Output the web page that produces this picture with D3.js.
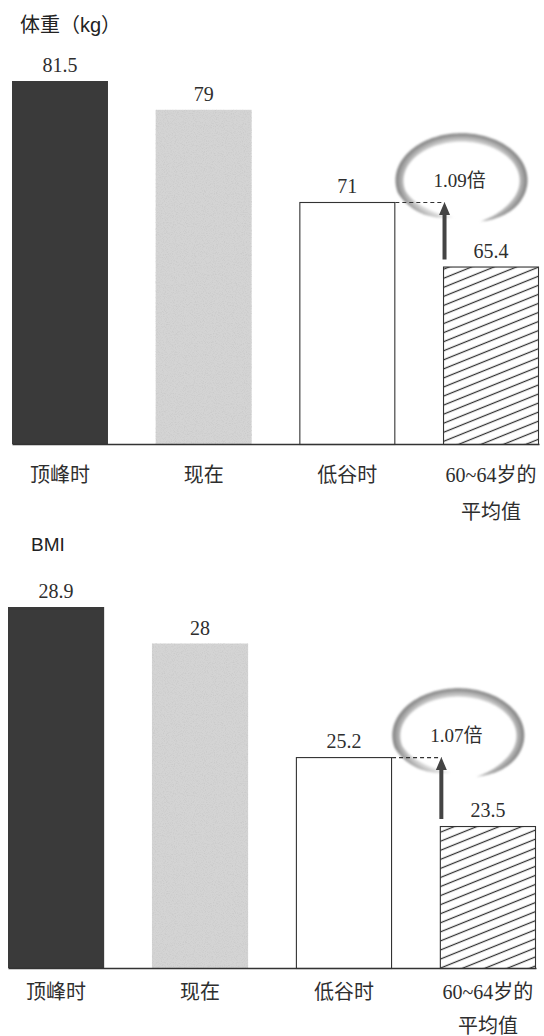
<!DOCTYPE html>
<html>
<head>
<meta charset="utf-8">
<script src="https://cdn.jsdelivr.net/npm/d3@7/dist/d3.min.js"></script>
<style>
  html, body { margin: 0; padding: 0; background: #fff; }
  svg { display: block; }
</style>
</head>
<body>
<script>
// ---- data ----
const categoryLines = [["顶峰时"], ["现在"], ["低谷时"], ["60~64岁的", "平均值"]];
const categories = categoryLines.map(l => l.join(""));
const weightValues = [81.5, 79, 71, 65.4];
const bmiValues = [28.9, 28, 25.2, 23.5];
const weightAxisMin = 50;
const bmiAxisMin = 20;
const panelTitles = ["体重（kg）", "BMI"];

// ---- layout ----
const W = 544, H = 1036;
const panels = [
  { title: panelTitles[0], values: weightValues, axisMin: weightAxisMin,
    titleX: 20, titleY: 32, titleSize: 20, left: 12, right: 539, top: 81, baseline: 444,
    labelY: 482, lineGap: 37, gid: "ringA" },
  { title: panelTitles[1], values: bmiValues, axisMin: bmiAxisMin,
    titleX: 31, titleY: 551, titleSize: 19, left: 8, right: 536, top: 607, baseline: 968,
    labelY: 999, lineGap: 34, gid: "ringB" }
];

const serif = "'Liberation Serif', 'Noto Sans CJK SC', serif";
const sans = "'Liberation Sans', 'Noto Sans CJK SC', sans-serif";
const ink = "#2e2e2e";

const svg = d3.select("body").append("svg")
  .attr("width", W).attr("height", H);

const defs = svg.append("defs");

// diagonal hatch for the reference-group bar
const hatch = defs.append("pattern")
  .attr("id", "hatch").attr("patternUnits", "userSpaceOnUse")
  .attr("width", 12).attr("height", 8.4)
  .attr("patternTransform", "rotate(-22)");
hatch.append("rect").attr("width", 12).attr("height", 8.4).attr("fill", "#fff");
hatch.append("line").attr("x1", 0).attr("x2", 12).attr("y1", 4.2).attr("y2", 4.2)
  .attr("stroke", "#2f2f2f").attr("stroke-width", 1.25);

// grainy stipple for the light bar
const grain = defs.append("filter").attr("id", "grain")
  .attr("x", 0).attr("y", 0).attr("width", 1).attr("height", 1);
grain.append("feTurbulence").attr("type", "fractalNoise")
  .attr("baseFrequency", 0.9).attr("numOctaves", 2).attr("seed", 7).attr("result", "n");
grain.append("feColorMatrix").attr("in", "n").attr("type", "matrix")
  .attr("values", "0 0 0 0 0.6  0 0 0 0 0.6  0 0 0 0 0.6  3.2 0 0 0 -1.45")
  .attr("result", "specks");
grain.append("feComposite").attr("in", "specks").attr("in2", "SourceGraphic")
  .attr("operator", "in").attr("result", "sp");
const gm = grain.append("feMerge");
gm.append("feMergeNode").attr("in", "SourceGraphic");
gm.append("feMergeNode").attr("in", "sp");

// soft edge for the swirl ring
defs.append("filter").attr("id", "soft")
  .attr("x", "-10%").attr("y", "-10%").attr("width", "120%").attr("height", "120%")
  .append("feGaussianBlur").attr("stdDeviation", 0.8);

const barStyles = [
  { fill: "#3a3a3a", stroke: "none", filter: null },
  { fill: "#d4d4d4", stroke: "none", filter: "url(#grain)" },
  { fill: "#ffffff", stroke: "#333", filter: null },
  { fill: "url(#hatch)", stroke: "#333", filter: null }
];

// tapered elliptical swirl, open near the bottom
function swirl(g, cx, cy, rx, ry, gid) {
  const grad = defs.append("radialGradient").attr("id", gid)
    .attr("gradientUnits", "userSpaceOnUse")
    .attr("cx", 0).attr("cy", 0).attr("r", 1)
    .attr("gradientTransform", `translate(${cx},${cy}) scale(${rx + 5},${ry + 5})`);
  [[0.76, "#eeeeee"], [0.86, "#c2c2c2"], [0.94, "#979797"], [1, "#767676"]]
    .forEach(([o, c]) => grad.append("stop").attr("offset", o).attr("stop-color", c));

  const t0 = 73 * Math.PI / 180, t1 = -262 * Math.PI / 180, N = 160, wMax = 8.5;
  const outer = [], inner = [];
  for (let i = 0; i <= N; i++) {
    const u = i / N;
    const t = t0 + (t1 - t0) * u;
    const taper = Math.min(1, u / 0.14) * Math.min(1, (1 - u) / 0.12);
    const w = wMax * Math.sin(Math.min(1, taper) * Math.PI / 2) * (0.8 + 0.2 * Math.sin(u * Math.PI));
    const s = u > 0.8 ? 1 - 0.14 * ((u - 0.8) / 0.2) : 1;
    const ex = Math.cos(t), ey = Math.sin(t);
    outer.push([cx + (rx * s + w / 2) * ex, cy + (ry * s + w / 2) * ey]);
    inner.push([cx + (rx * s - w / 2) * ex, cy + (ry * s - w / 2) * ey]);
  }
  const pts = outer.concat(inner.reverse());
  g.append("path")
    .attr("d", d3.line().curve(d3.curveLinearClosed)(pts))
    .attr("fill", `url(#${gid})`)
    .attr("filter", "url(#soft)");
}

panels.forEach(p => {
  const g = svg.append("g");

  const x = d3.scaleBand().domain(categories)
    .range([p.left, p.right]).paddingInner(0.332).paddingOuter(0);
  const y = d3.scaleLinear().domain([p.axisMin, d3.max(p.values)])
    .range([p.baseline, p.top]);

  // panel title
  g.append("text").attr("x", p.titleX).attr("y", p.titleY)
    .attr("font-family", sans).attr("font-size", p.titleSize).attr("fill", "#222")
    .text(p.title);

  const rows = p.values.map((v, i) => ({ cat: categories[i], v, i }));

  // bars
  g.selectAll("rect.bar").data(rows).join("rect")
    .attr("class", "bar")
    .attr("x", d => x(d.cat) + (barStyles[d.i].stroke !== "none" ? 0.5 : 0))
    .attr("y", d => y(d.v) + (barStyles[d.i].stroke !== "none" ? 0.5 : 0))
    .attr("width", d => x.bandwidth() - (barStyles[d.i].stroke !== "none" ? 1 : 0))
    .attr("height", d => p.baseline - y(d.v))
    .attr("fill", d => barStyles[d.i].fill)
    .attr("stroke", d => barStyles[d.i].stroke)
    .attr("stroke-width", 1.1)
    .attr("filter", d => barStyles[d.i].filter);

  // value labels
  g.selectAll("text.val").data(rows).join("text")
    .attr("class", "val")
    .attr("x", d => x(d.cat) + x.bandwidth() / 2)
    .attr("y", d => y(d.v) - 9)
    .attr("text-anchor", "middle")
    .attr("font-family", serif).attr("font-size", 20).attr("fill", ink)
    .text(d => d.v);

  // category axis
  const ax = g.append("g").attr("transform", `translate(0,${p.baseline})`)
    .call(d3.axisBottom(x).tickSize(0).tickSizeOuter(0));
  ax.attr("font-family", serif).attr("font-size", 20);
  ax.select(".domain").attr("stroke", "#333").attr("stroke-width", 1.6);
  ax.selectAll(".tick text").each(function (d) {
    const lines = categoryLines[categories.indexOf(d)];
    const t = d3.select(this).text(null).attr("y", null).attr("dy", null)
      .attr("fill", ink);
    lines.forEach((ln, k) => {
      t.append("tspan").attr("x", 0)
        .attr("y", p.labelY - p.baseline + k * p.lineGap).text(ln);
    });
  });

  // comparison annotation: low point vs. age-group average
  const low = rows[2], avg = rows[3];
  const arrowX = x(avg.cat) + 1.5;
  const tipY = y(low.v);
  const footY = y(avg.v) - 7;
  const cx = x(avg.cat) + 18.5, cy = tipY - 21.5;

  swirl(g, cx, cy, 62, 43, p.gid);

  g.append("line")
    .attr("x1", x(low.cat) + x.bandwidth()).attr("x2", arrowX)
    .attr("y1", tipY + 0.5).attr("y2", tipY + 0.5)
    .attr("stroke", "#333").attr("stroke-width", 1.1)
    .attr("stroke-dasharray", "4,3");

  const head = 13, hw = 5.5, sw = 2;
  g.append("path")
    .attr("d", `M${arrowX - sw},${footY} L${arrowX - sw},${tipY + head} L${arrowX - hw},${tipY + head}
                L${arrowX},${tipY} L${arrowX + hw},${tipY + head} L${arrowX + sw},${tipY + head}
                L${arrowX + sw},${footY} Z`)
    .attr("fill", "#444");

  g.append("text")
    .attr("x", cx - 2).attr("y", cy + 6.5)
    .attr("text-anchor", "middle")
    .attr("font-family", serif).attr("font-size", 19).attr("fill", ink)
    .text((low.v / avg.v).toFixed(2) + "倍");
});
</script>
</body>
</html>
